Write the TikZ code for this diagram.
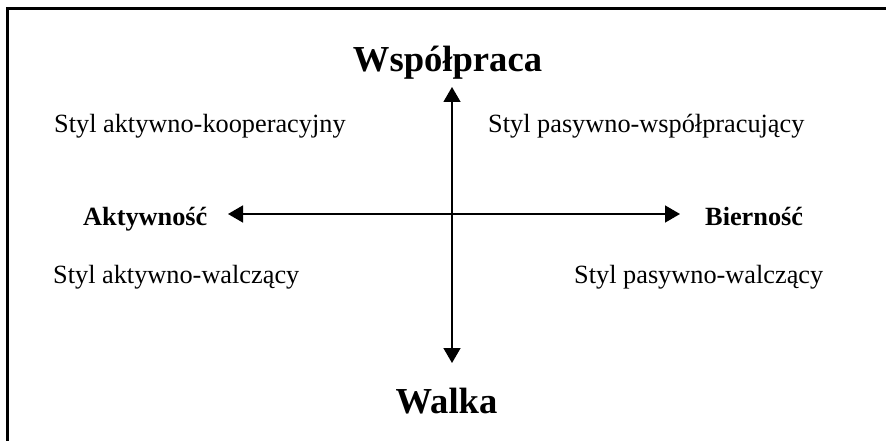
\documentclass[tikz,border=0pt]{standalone}
\usepackage{fontspec}
\setmainfont{Liberation Serif}
\usetikzlibrary{arrows.meta}
\begin{document}
\begin{tikzpicture}[x=1pt,y=-1pt,
  small/.style={inner sep=0pt,anchor=base west,font=\fontsize{26.3}{30}\selectfont},
  smallbold/.style={small,font=\fontsize{26.3}{30}\selectfont\bfseries},
  big/.style={inner sep=0pt,anchor=base,font=\fontsize{36.6}{42}\selectfont\bfseries},
  axis/.style={line width=1.5pt,-{Triangle[width=17pt,length=15pt]}}]
\useasboundingbox (0,0) rectangle (886,441);
\draw[line width=3pt] (7,441) -- (7,9) -- (886,9);
\coordinate (c) at (452,214);
\coordinate (t) at (452,87);
\coordinate (b) at (452,363);
\coordinate (l) at (228,214);
\coordinate (r) at (680,214);
\draw[axis] (c) -- (t);
\draw[axis] (c) -- (b);
\draw[axis] (c) -- (l);
\draw[axis] (c) -- (r);
\node[big] (wsp) at (447.5,72) {Współpraca};
\node[big] (wal) at (446.5,413) {Walka};
\node[small] (ak) at (54,133) {Styl aktywno-kooperacyjny};
\node[small] (pw) at (488,133) {Styl pasywno-współpracujący};
\node[smallbold] (akt) at (83,225) {Aktywność};
\node[smallbold] (bie) at (705,225) {Bierność};
\node[small] (aw) at (53,283) {Styl aktywno-walczący};
\node[small] (paw) at (574,283) {Styl pasywno-walczący};
\end{tikzpicture}
\end{document}
